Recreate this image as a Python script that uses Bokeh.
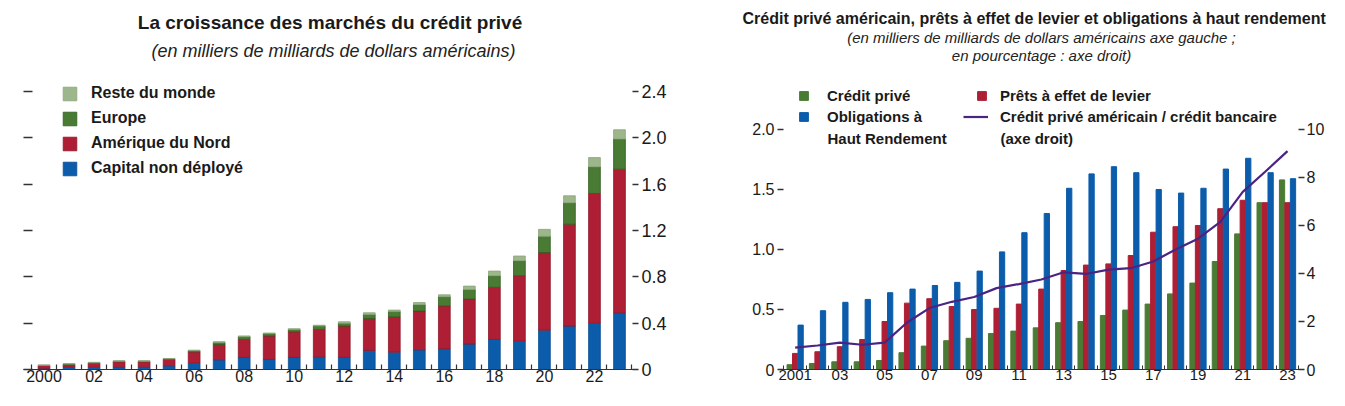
from bokeh.plotting import figure
from bokeh.models import (Range1d, LinearAxis, FixedTicker, Legend, LegendItem, Label,
                          ColumnDataSource)
from bokeh.layouts import row
from bokeh.embed import file_html
from bokeh.resources import INLINE
from bokeh.transform import dodge

# ---------------- data: left chart ----------------
years_left = list(range(2000, 2024))
capital = [0.01, 0.02, 0.02, 0.023, 0.023, 0.032, 0.055, 0.084, 0.104, 0.087, 0.104, 0.11,
           0.105, 0.165, 0.15, 0.17, 0.18, 0.22, 0.26, 0.245, 0.34, 0.375, 0.40, 0.49]
amerique = [0.025, 0.023, 0.032, 0.045, 0.045, 0.055, 0.098, 0.132, 0.156, 0.203, 0.222, 0.236,
            0.27, 0.275, 0.306, 0.335, 0.37, 0.39, 0.45, 0.565, 0.67, 0.88, 1.12, 1.24]
europe = [0.001, 0.004, 0.006, 0.004, 0.004, 0.005, 0.009, 0.018, 0.023, 0.02, 0.02, 0.029,
          0.025, 0.036, 0.044, 0.055, 0.078, 0.08, 0.10, 0.13, 0.14, 0.185, 0.23, 0.26]
reste = [0.002, 0.003, 0.004, 0.003, 0.003, 0.003, 0.005, 0.006, 0.007, 0.005, 0.006, 0.007,
         0.012, 0.014, 0.013, 0.018, 0.017, 0.03, 0.04, 0.04, 0.06, 0.06, 0.08, 0.08]
left_x_ticks = [2000, 2002, 2004, 2006, 2008, 2010, 2012, 2014, 2016, 2018, 2020, 2022]
left_x_labels = ["2000", "02", "04", "06", "08", "10", "12", "14", "16", "18", "20", "22"]
left_y_ticks = [0, 0.4, 0.8, 1.2, 1.6, 2.0, 2.4]
left_y_labels = ["0", "0.4", "0.8", "1.2", "1.6", "2.0", "2.4"]

# ---------------- data: right chart ----------------
years_right = list(range(2001, 2024))
credit_prive = [0.04, 0.05, 0.064, 0.064, 0.075, 0.14, 0.195, 0.24, 0.26, 0.30, 0.32, 0.347,
                0.39, 0.40, 0.45, 0.495, 0.545, 0.63, 0.72, 0.90, 1.13, 1.39, 1.58]
prets = [0.134, 0.148, 0.19, 0.25, 0.40, 0.553, 0.59, 0.525, 0.50, 0.51, 0.545, 0.67,
         0.825, 0.87, 0.88, 0.95, 1.144, 1.19, 1.20, 1.34, 1.41, 1.39, 1.39]
obligations = [0.37, 0.49, 0.56, 0.584, 0.64, 0.67, 0.70, 0.726, 0.82, 0.98, 1.14, 1.30,
               1.51, 1.63, 1.69, 1.64, 1.50, 1.47, 1.51, 1.67, 1.76, 1.64, 1.59]
ratio = [0.91, 1.0, 1.12, 1.03, 1.12, 1.96, 2.56, 2.82, 3.02, 3.39, 3.56, 3.75,
         4.05, 3.98, 4.16, 4.22, 4.5, 5.0, 5.45, 6.15, 7.4, 8.24, 9.1]
right_x_ticks = [2001, 2003, 2005, 2007, 2009, 2011, 2013, 2015, 2017, 2019, 2021, 2023]
right_x_labels = ["2001", "03", "05", "07", "09", "11", "13", "15", "17", "19", "21", "23"]
right_yl_ticks = [0, 0.5, 1.0, 1.5, 2.0]
right_yl_labels = ["0", "0.5", "1.0", "1.5", "2.0"]
right_yr_ticks = [0, 2, 4, 6, 8, 10]
right_yr_labels = ["0", "2", "4", "6", "8", "10"]

# ---------------- styles ----------------
FONT = "Liberation Sans"
TXT = "#1a1a1a"
BLUE = "#0B5CAB"
RED = "#AE1F35"
GREEN = "#4A7B34"
LGREEN = "#9DB68B"
PURPLE = "#4B2383"
TOP = 32      # shared top border (row aligns the frames)
BOTTOM = 21   # shared bottom border

# ================= LEFT CHART =================
# frame: x 23..636, y 32..369 (115.8 px per unit)
p1 = figure(width=720, height=390, x_range=Range1d(1999.18, 2023.68), y_range=Range1d(0, 2.91),
            output_backend="svg", toolbar_location=None,
            min_border_left=23, min_border_right=84, min_border_top=TOP, min_border_bottom=BOTTOM)
p1.outline_line_color = None
p1.grid.visible = False

p1.title.text = "La croissance des marchés du crédit privé"
p1.title.align = "center"
p1.title.text_font = FONT
p1.title.text_font_size = "19px"
p1.title.text_font_style = "bold"
p1.title.text_color = TXT
p1.title.standoff = 0

src1 = ColumnDataSource(dict(year=years_left, capital=capital, amerique=amerique,
                             europe=europe, reste=reste))
rs = p1.vbar_stack(["capital", "amerique", "europe", "reste"], x="year", width=0.47, source=src1,
                   fill_color=[BLUE, RED, GREEN, LGREEN],
                   line_color=["#0A4F95", "#8E1628", "#2F5E1E", "#8AA67A"], line_width=0.8)

# left axis: tick dashes only
yl = p1.yaxis[0]
yl.ticker = FixedTicker(ticks=left_y_ticks)
yl.major_label_overrides = {t: "" for t in left_y_ticks}
yl.major_label_text_font_size = "1px"
yl.major_tick_in = 9
yl.major_tick_out = 0
yl.minor_tick_in = 0
yl.minor_tick_out = 0
yl.axis_line_color = None
yl.major_tick_line_color = "#333333"
yl.major_tick_line_width = 1.5

# right axis with labels
yr1 = LinearAxis(ticker=FixedTicker(ticks=left_y_ticks),
                 major_label_overrides=dict(zip(left_y_ticks, left_y_labels)))
yr1.major_tick_in = 4
yr1.major_tick_out = 2
yr1.minor_tick_in = 0
yr1.minor_tick_out = 0
yr1.axis_line_color = None
yr1.major_tick_line_color = "#333333"
yr1.major_tick_line_width = 1.5
yr1.major_label_standoff = 3
yr1.major_label_text_font = FONT
yr1.major_label_text_font_size = "18px"
yr1.major_label_text_color = TXT
p1.add_layout(yr1, "right")

xa1 = p1.xaxis[0]
xa1.ticker = FixedTicker(ticks=left_x_ticks, minor_ticks=[y - 0.5 for y in years_left] + [2023.5])
xa1.major_label_overrides = dict(zip(left_x_ticks, left_x_labels))
xa1.major_tick_in = 0
xa1.major_tick_out = 0
xa1.minor_tick_in = 5
xa1.minor_tick_out = 0
xa1.minor_tick_line_color = "#333333"
xa1.minor_tick_line_width = 1.2
xa1.axis_line_color = "#333333"
xa1.axis_line_width = 1.2
xa1.major_label_standoff = 0
xa1.major_label_text_font = FONT
xa1.major_label_text_font_size = "16px"
xa1.major_label_text_color = TXT

leg1 = Legend(items=[LegendItem(label="Reste du monde", renderers=[rs[3]]),
                     LegendItem(label="Europe", renderers=[rs[2]]),
                     LegendItem(label="Amérique du Nord", renderers=[rs[1]]),
                     LegendItem(label="Capital non déployé", renderers=[rs[0]])],
              location=(38, 191), orientation="vertical")
leg1.border_line_color = None
leg1.background_fill_alpha = 0
leg1.padding = 0
leg1.margin = 0
leg1.spacing = 5
leg1.glyph_width = 17
leg1.glyph_height = 17
leg1.label_height = 20
leg1.label_standoff = 13
leg1.label_text_font = FONT
leg1.label_text_font_size = "16px"
leg1.label_text_font_style = "bold"
leg1.label_text_color = TXT
p1.add_layout(leg1)

p1.add_layout(Label(x=310, y=319, x_units="screen", y_units="screen",
                    text="(en milliers de milliards de dollars américains)",
                    text_font=FONT, text_font_size="18px", text_font_style="italic",
                    text_color="#222222", text_align="center", text_baseline="middle"))

# ================= RIGHT CHART =================
# frame: local x 61..580, y 32..369 (120 px per unit)
p2 = figure(width=609, height=390, x_range=Range1d(2000.39, 2023.58), y_range=Range1d(0, 2.808),
            output_backend="svg", toolbar_location=None,
            min_border_left=61, min_border_right=29, min_border_top=TOP, min_border_bottom=BOTTOM)
p2.outline_line_color = None
p2.grid.visible = False
p2.extra_y_ranges = {"pct": Range1d(0, 14.04)}

p2.title.text = "Crédit privé américain, prêts à effet de levier et obligations à haut rendement"
p2.title.align = "left"
p2.title.offset = -39
p2.title.text_font = FONT
p2.title.text_font_size = "16px"
p2.title.text_font_style = "bold"
p2.title.text_color = TXT
p2.title.standoff = 11

src2 = ColumnDataSource(dict(year=years_right, credit=credit_prive, prets=prets,
                             oblig=obligations, ratio=ratio))
r_g = p2.vbar(x=dodge("year", -0.245), top="credit", width=0.235, source=src2,
              fill_color=GREEN, line_color=GREEN)
r_r = p2.vbar(x="year", top="prets", width=0.235, source=src2,
              fill_color=RED, line_color=RED)
r_b = p2.vbar(x=dodge("year", 0.245), top="oblig", width=0.235, source=src2,
              fill_color=BLUE, line_color=BLUE)
r_l = p2.line(x="year", y="ratio", source=src2, y_range_name="pct",
              line_color=PURPLE, line_width=2.2)

ya2 = p2.yaxis[0]
ya2.ticker = FixedTicker(ticks=right_yl_ticks)
ya2.major_label_overrides = dict(zip(right_yl_ticks, right_yl_labels))
ya2.major_tick_in = 2
ya2.major_tick_out = 4
ya2.minor_tick_in = 0
ya2.minor_tick_out = 0
ya2.axis_line_color = None
ya2.major_tick_line_color = "#333333"
ya2.major_tick_line_width = 1.3
ya2.major_label_standoff = 3
ya2.major_label_text_font = FONT
ya2.major_label_text_font_size = "16px"
ya2.major_label_text_color = TXT

yr2 = LinearAxis(y_range_name="pct", ticker=FixedTicker(ticks=right_yr_ticks),
                 major_label_overrides=dict(zip(right_yr_ticks, right_yr_labels)))
yr2.major_tick_in = 2
yr2.major_tick_out = 4
yr2.minor_tick_in = 0
yr2.minor_tick_out = 0
yr2.axis_line_color = None
yr2.major_tick_line_color = "#333333"
yr2.major_tick_line_width = 1.3
yr2.major_label_standoff = 2
yr2.major_label_text_font = FONT
yr2.major_label_text_font_size = "16px"
yr2.major_label_text_color = TXT
p2.add_layout(yr2, "right")

xa2 = p2.xaxis[0]
xa2.ticker = FixedTicker(ticks=right_x_ticks, minor_ticks=[y - 0.5 for y in years_right] + [2023.5])
xa2.major_label_overrides = dict(zip(right_x_ticks, right_x_labels))
xa2.major_tick_in = 0
xa2.major_tick_out = 0
xa2.minor_tick_in = 4
xa2.minor_tick_out = 0
xa2.minor_tick_line_color = "#333333"
xa2.axis_line_color = "#333333"
xa2.axis_line_width = 1.2
xa2.major_label_standoff = 0
xa2.major_label_text_font = FONT
xa2.major_label_text_font_size = "15px"
xa2.major_label_text_color = TXT


def style_legend(lg, gw, gh, standoff):
    lg.border_line_color = None
    lg.background_fill_alpha = 0
    lg.padding = 0
    lg.margin = 0
    lg.spacing = 1
    lg.glyph_width = gw
    lg.glyph_height = gh
    lg.label_height = 20
    lg.label_standoff = standoff
    lg.label_text_font = FONT
    lg.label_text_font_size = "15px"
    lg.label_text_font_style = "bold"
    lg.label_text_color = TXT


legA = Legend(items=[LegendItem(label="Crédit privé", renderers=[r_g]),
                     LegendItem(label="Obligations à", renderers=[r_b])],
              location=(17, 243))
style_legend(legA, 11, 11, 18)
legB = Legend(items=[LegendItem(label="Prêts à effet de levier", renderers=[r_r])],
              location=(195, 264))
style_legend(legB, 11, 11, 13)
legC = Legend(items=[LegendItem(label="Crédit privé américain / crédit bancaire",
                                renderers=[r_l])],
              location=(182, 243))
style_legend(legC, 25, 11, 12)
for lg in (legA, legB, legC):
    p2.add_layout(lg)

for txt, lx in (("Haut Rendement", 46), ("(axe droit)", 219)):
    p2.add_layout(Label(x=lx, y=231, x_units="screen", y_units="screen", text=txt,
                        text_font=FONT, text_font_size="15px", text_font_style="bold",
                        text_color=TXT, text_align="left", text_baseline="middle"))

p2.add_layout(Label(x=260, y=332, x_units="screen", y_units="screen",
                    text="(en milliers de milliards de dollars américains axe gauche ;",
                    text_font=FONT, text_font_size="15px", text_font_style="italic",
                    text_color="#222222", text_align="center", text_baseline="middle"))
p2.add_layout(Label(x=260, y=314, x_units="screen", y_units="screen",
                    text="en pourcentage : axe droit)",
                    text_font=FONT, text_font_size="15px", text_font_style="italic",
                    text_color="#222222", text_align="center", text_baseline="middle"))

layout = row(p1, p2)
open("out.html", "w").write(file_html(layout, INLINE))
